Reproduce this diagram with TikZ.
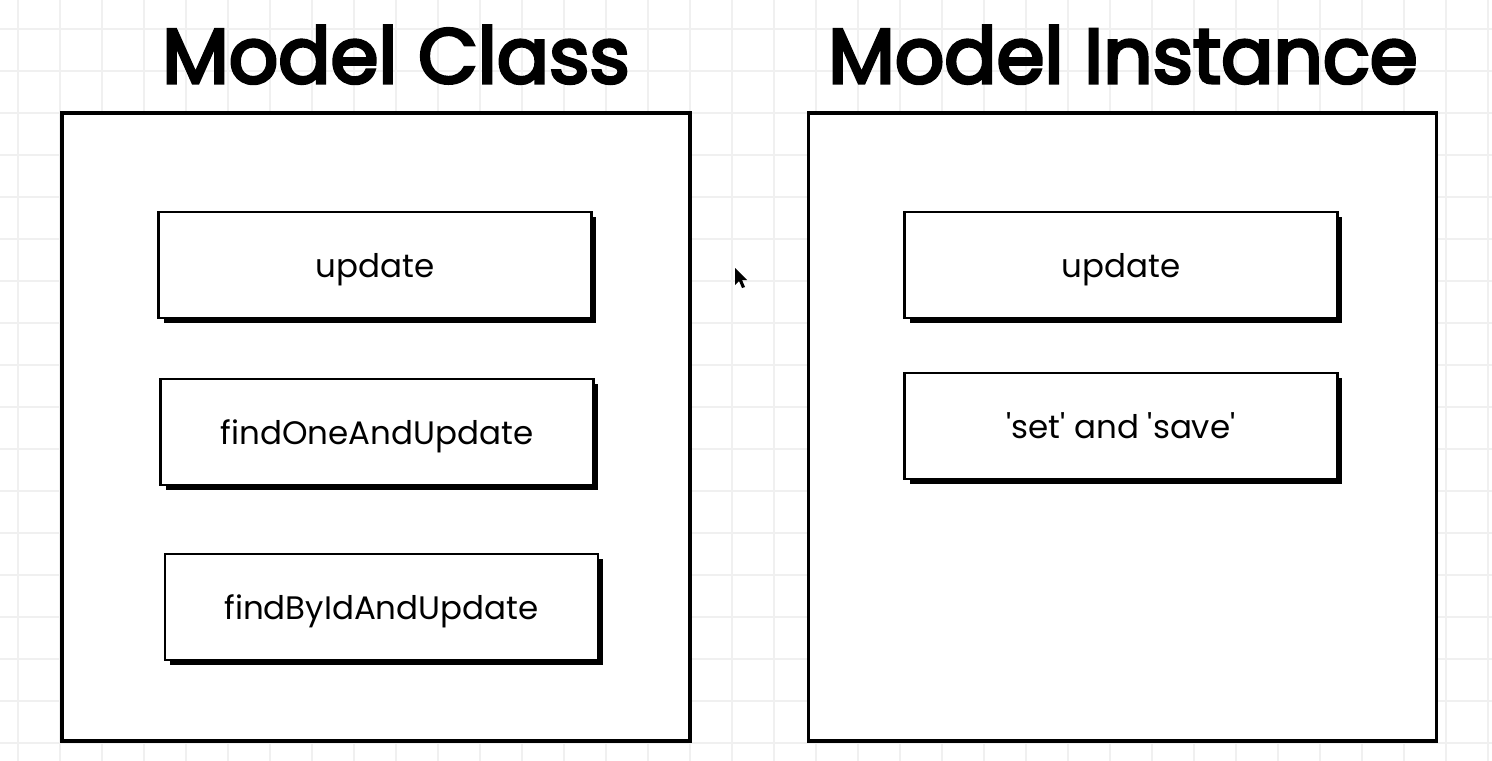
\documentclass[tikz,border=0pt]{standalone}
\usepackage{fontspec}
\setmainfont{Poppins}
\newfontfamily\headingfont[FakeBold=4]{Poppins}
\usetikzlibrary{shadows}

\tikzset{
  gridline/.style={draw=black!6, line width=0.6pt},
  frame/.style={draw, line width=1.8pt, fill=white, minimum width=12.56cm, minimum height=12.56cm},
  methodbox/.style={draw, line width=1.6pt, fill=white, minimum width=8.66cm, minimum height=2.12cm,
    text height=0.6cm, text depth=0.12cm,
    drop shadow={shadow xshift=0.1cm, shadow yshift=-0.1cm, fill=black, opacity=1},
    font=\fontsize{18.5}{22}\selectfont},
  heading/.style={anchor=base, font=\fontsize{44}{50}\headingfont},
}

\begin{document}
\begin{tikzpicture}[x=0.02cm, y=-0.02cm]
        \useasboundingbox (0,0) rectangle (1492,761);
        \fill[white] (0,0) rectangle (1492,761);
        % grid paper
        \foreach \gx in {18,60,...,1492} {\draw[gridline] (\gx,0) -- (\gx,761);}
        \foreach \gy in {29,71,...,761} {\draw[gridline] (0,\gy) -- (1492,\gy);}

        % model class
        \node[heading] (classtitle) at (396,83) {Model Class};
        \node[frame] (classframe) at (376,427) {};
        \node[methodbox] (cupdate) at (375,265) {update};
        \node[methodbox] (cfindone) at (377,432) {findOneAndUpdate};
        \node[methodbox] (cfindbyid) at (381.5,607) {findByIdAndUpdate};

        % model instance
        \node[heading] (instancetitle) at (1123,83) {Model Instance};
        \node[frame] (instanceframe) at (1122.5,427) {};
        \node[methodbox] (iupdate) at (1121,265) {update};
        \node[methodbox] (isetsave) at (1121,426) {\textquotesingle set\textquotesingle{} and \textquotesingle save\textquotesingle};

        % mouse pointer
        \fill (735,268) -- (735,285) -- (739,281) -- (742,288) -- (745,287) -- (742,280) -- (747,280) -- cycle;
    \end{tikzpicture}
\end{document}
